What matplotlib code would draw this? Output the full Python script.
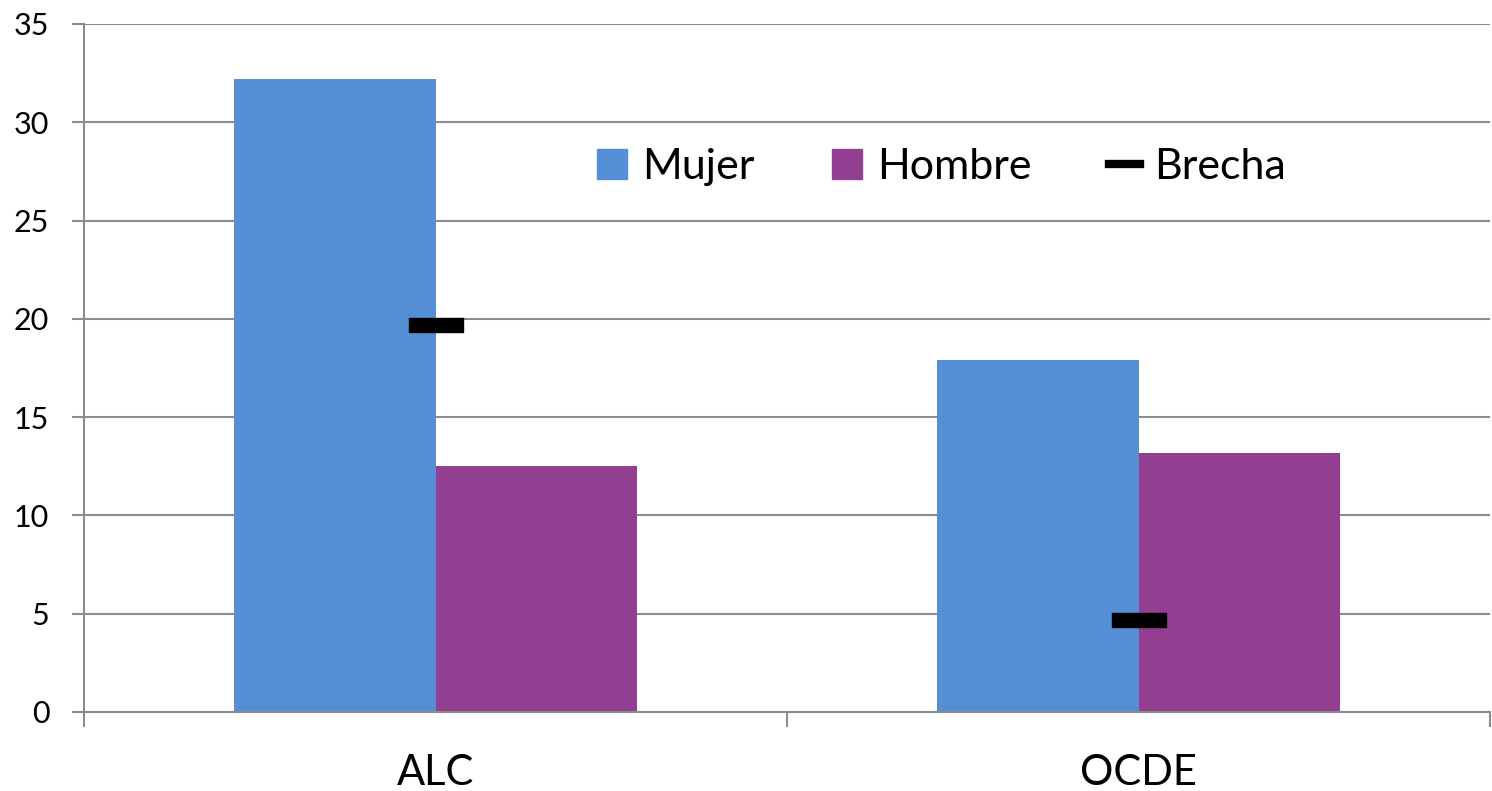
import numpy as np
import matplotlib
matplotlib.use('Agg')
import matplotlib.pyplot as plt
from matplotlib.lines import Line2D
from matplotlib.patches import Patch

plt.rcParams['font.family'] = ['Lato', 'DejaVu Sans']

categories = ['ALC', 'OCDE']
mujer = [32.2, 17.9]
hombre = [12.5, 13.2]
brecha = [19.7, 4.7]

blue = '#558ED5'
purple = '#933F91'
grey = '#8C8C8C'

fig = plt.figure(figsize=(14.92, 7.91), dpi=100)
ax = fig.add_axes([0.0563, 0.0999, 0.9424, 0.8698])

x = np.arange(len(categories))
w = 0.286
ax.bar(x - w / 2, mujer, w, color=blue, label='Mujer', zorder=2)
ax.bar(x + w / 2, hombre, w, color=purple, label='Hombre', zorder=2)

# brecha drawn as a flat black dash
dash = [(-2.1, -0.5), (2.1, -0.5), (2.1, 0.5), (-2.1, 0.5), (-2.1, -0.5)]
ax.plot(x, brecha, linestyle='none', marker=dash, markersize=39.5,
        color='black', zorder=3)

ax.set_xlim(-0.5, 1.5)
ax.set_ylim(0, 35)
ax.set_yticks(range(0, 36, 5))
ax.yaxis.grid(True, color=grey, linewidth=1.5, zorder=0)
ax.set_axisbelow(True)

ax.set_xticks(x)
ax.set_xticklabels(categories, fontsize=30)
ax.set_xticks([-0.5, 0.5, 1.5], minor=True)
ax.tick_params(axis='x', which='major', length=0, pad=30)
ax.tick_params(axis='x', which='minor', length=11, width=1.5, color=grey)
ax.tick_params(axis='y', length=9, width=1.5, color=grey, labelsize=22, pad=16)

for s in ['top', 'right']:
    ax.spines[s].set_visible(False)
for s in ['left', 'bottom']:
    ax.spines[s].set_color(grey)
    ax.spines[s].set_linewidth(1.5)

handles = [Patch(color=blue), Patch(color=purple),
           Line2D([], [], color='black', linewidth=6)]
leg = ax.legend(handles, ['Mujer', 'Hombre', 'Brecha'], ncol=3, frameon=False,
                fontsize=31, loc='center', bbox_to_anchor=(0.61, 0.792),
                handlelength=0.7, handleheight=0.7, handletextpad=0.35,
                columnspacing=1.8)

fig.savefig('out.png', dpi=100)
